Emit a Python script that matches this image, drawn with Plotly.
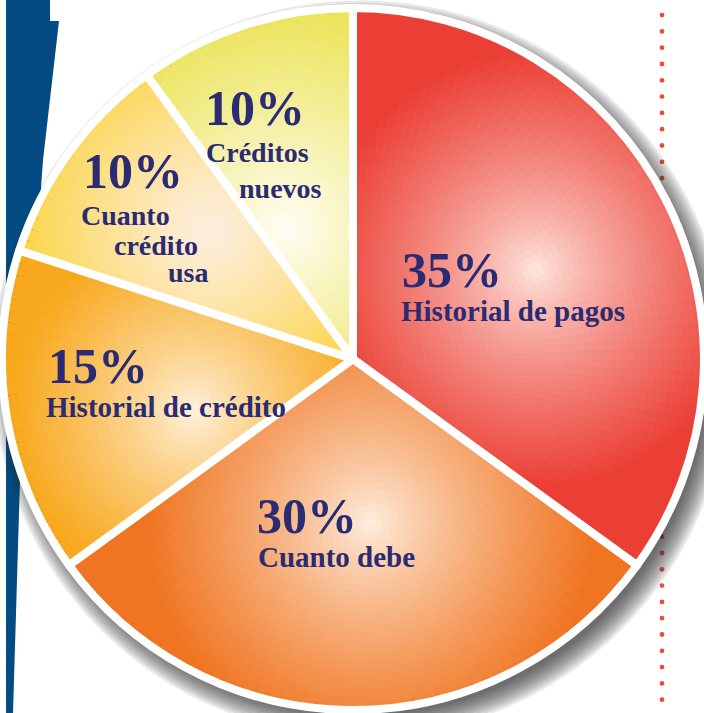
import numpy as np
import plotly.graph_objects as go

# ---------------- data ----------------
categories = ["Historial de pagos", "Cuanto debe", "Historial de crédito",
              "Cuanto crédito usa", "Créditos nuevos"]
values = [35, 30, 15, 10, 10]
split_lines = [False, False, False, True, True]

# ---------------- style ----------------
W, H = 704, 713
CX, CY, R = 353, 359, 351          # pie centre / radius in px
edge_colors = ["#eb3f35", "#f07522", "#f8a81c", "#fccf26", "#ece45a"]
hl_colors = ["#fee9e1", "#fef1e2", "#fef3e2", "#fdeedf", "#fffef8"]
hl_rho = [0.58, 0.47, 0.48, 0.55, 0.42]
hl_theta = [64, 174, 252, 312, 333]
grad_r = [0.62, 0.64, 0.52, 0.64, 0.62]
gamma = [0.8, 0.8, 0.8, 1.15, 0.9]
text_color = "#2a2b72"
FONT = "Liberation Serif"

# label placement (left x, baseline y) in px: percent line then text lines
pct_pos = [(400, 287), (255, 533), (46, 383), (81, 188), (203, 125)]
txt_pos = [[(399, 321)], [(256, 567)], [(44, 417)],
           [(79, 225), (112, 255), (166, 282)],
           [(204, 162), (237, 198)]]
pct_size = [50, 50, 50, 50, 50]
txt_size = [29, 29, 29, 28, 28]


def hex2rgb(h):
    h = h.lstrip("#")
    return np.array([int(h[i:i + 2], 16) for i in (0, 2, 4)], float)


def px(x):
    return x / W


def py(y):
    return 1 - y / H


def clip01(v):
    return min(max(v, 0.0), 1.0)


def dom(cx, cy, r):
    return dict(x=[clip01(px(cx - r)), clip01(px(cx + r))],
                y=[clip01(py(cy) - r / H), clip01(py(cy) + r / H)])


fig = go.Figure()

# ---- gradient layers (stacked pies split into angular cells) ----
total = sum(values)
cells_v, cells_meta = [], []
start = 0.0
for i, v in enumerate(values):
    span = 360.0 * v / total
    n = max(8, int(round(v * 1.8)))
    for j in range(n):
        cells_v.append(v / n)
        cells_meta.append((i, start + (j + 0.5) * span / n))
    start += span

M = 50
edges = [hex2rgb(c) for c in edge_colors]
hls = [hex2rgb(c) for c in hl_colors]
hx = [r * np.sin(np.radians(t)) for r, t in zip(hl_rho, hl_theta)]
hy = [r * np.cos(np.radians(t)) for r, t in zip(hl_rho, hl_theta)]

for k in range(M):
    rk = R * (M - k) / M
    rho = (M - k - 0.5) / M
    cols = []
    for (i, th) in cells_meta:
        x = rho * np.sin(np.radians(th))
        y = rho * np.cos(np.radians(th))
        d = np.hypot(x - hx[i], y - hy[i])
        t = min(d / grad_r[i], 1.0) ** gamma[i]
        c = hls[i] + (edges[i] - hls[i]) * t
        cols.append("rgb(%d,%d,%d)" % tuple(np.round(c)))
    fig.add_trace(go.Pie(values=cells_v, sort=False, direction="clockwise",
                         rotation=0, domain=dom(CX, CY, rk),
                         marker=dict(colors=cols, line=dict(width=0)),
                         textinfo="none", hoverinfo="skip", showlegend=False))

# ---- separators / border ----
fig.add_trace(go.Pie(values=values, labels=categories, sort=False,
                     direction="clockwise", rotation=0, domain=dom(CX, CY, R),
                     marker=dict(colors=["rgba(0,0,0,0)"] * len(values),
                                 line=dict(color="white", width=8)),
                     textinfo="none", hovertemplate="%{label}: %{value}%<extra></extra>",
                     showlegend=False))

# ---- labels ----
ann = []
for i, (cat, v) in enumerate(zip(categories, values)):
    s = pct_size[i]
    x0, b0 = pct_pos[i]
    ann.append(dict(x=px(x0), y=py(b0 - 0.3375 * s), xref="paper", yref="paper",
                    text=f"{v}%", showarrow=False, xanchor="left", yanchor="middle",
                    font=dict(family=FONT, size=s, color=text_color, weight="bold")))
    lines = cat.split() if split_lines[i] else [cat]
    for line, (lx, lb) in zip(lines, txt_pos[i]):
        s2 = txt_size[i]
        ann.append(dict(x=px(lx), y=py(lb - 0.3375 * s2), xref="paper", yref="paper",
                        text=line, showarrow=False, xanchor="left", yanchor="middle",
                        font=dict(family=FONT, size=s2, color=text_color, weight="bold")))

# ---- decorative background ----
shapes = []
poly = [(6, 0), (50, 0), (50, 21), (59, 21), (43, 160), (20, 480), (13, 713), (6, 713)]
path = "M " + " L ".join(f"{px(a):.5f},{py(b):.5f}" for a, b in poly) + " Z"
shapes.append(dict(type="path", path=path, xref="paper", yref="paper",
                   fillcolor="#034b82", line=dict(width=0), layer="below"))
yy = 15.1
while yy < 713:
    shapes.append(dict(type="circle", xref="paper", yref="paper",
                       x0=px(662 - 2.4), x1=px(662 + 2.4),
                       y0=py(yy + 2.4), y1=py(yy - 2.4),
                       fillcolor="#e84c3d", line=dict(width=0), layer="below"))
    yy += 16.3
# soft drop shadow behind the pie
for k in range(10):
    rr = 347 + 2.4 * k
    sx, sy = CX + 8, CY + 10
    shapes.append(dict(type="circle", xref="paper", yref="paper",
                       x0=px(sx - rr), x1=px(sx + rr), y0=py(sy + rr), y1=py(sy - rr),
                       fillcolor="rgba(40,40,40,0.1)", line=dict(width=0), layer="below"))

fig.update_layout(width=W, height=H, margin=dict(l=0, r=0, t=0, b=0),
                  paper_bgcolor="white", plot_bgcolor="white",
                  annotations=ann, shapes=shapes, showlegend=False)

fig.write_html("out.html", config={"displayModeBar": False},
               post_script="document.body.style.margin='0px';"
                           "document.body.style.overflow='hidden';")
